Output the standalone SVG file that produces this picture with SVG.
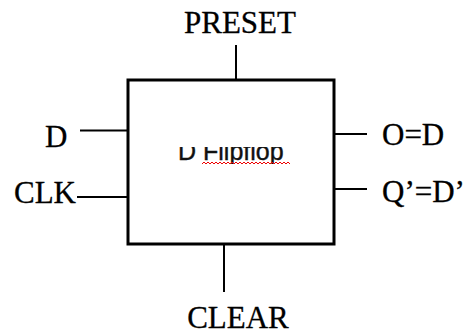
<svg xmlns="http://www.w3.org/2000/svg" width="464" height="335" viewBox="0 0 464 335">
<defs>
<style>
.lbl{font-family:"Liberation Serif","Times New Roman",serif;font-size:31px;fill:#000;stroke:#000;stroke-width:0.3}
.wire{stroke:#000;stroke-width:2;fill:none}
.box{stroke:#000;stroke-width:3;fill:#fff}
.inner{font-family:"Liberation Sans",Arial,sans-serif;font-size:25px;fill:#111;stroke:#111;stroke-width:0.4}
</style>
<clipPath id="cut"><rect x="170" y="147" width="130" height="17"/></clipPath>
</defs>
<rect width="464" height="335" fill="#fff"/>
<g id="connectors">
<line class="wire" x1="236" y1="45" x2="236" y2="80"/>
<line class="wire" x1="224" y1="244" x2="224" y2="292"/>
<line class="wire" x1="80" y1="130.5" x2="128" y2="130.5"/>
<line class="wire" x1="77" y1="197" x2="128" y2="197"/>
<line class="wire" x1="335" y1="134" x2="367" y2="134" stroke="#555"/>
<line class="wire" x1="335" y1="189" x2="367" y2="189"/>
</g>
<g id="flipflop">
<rect class="box" x="128" y="80" width="206" height="164"/>
<text class="inner" x="178" y="160" clip-path="url(#cut)">D Flipflop</text>
<path d="M202,164 l2,-2 l2,2 l2,-2 l2,2 l2,-2 l2,2 l2,-2 l2,2 l2,-2 l2,2 l2,-2 l2,2 l2,-2 l2,2 l2,-2 l2,2 l2,-2 l2,2 l2,-2 l2,2 l2,-2 l2,2 l2,-2 l2,2 l2,-2 l2,2 l2,-2 l2,2 l2,-2 l2,2 l2,-2 l2,2 l2,-2 l2,2 l2,-2 l2,2 l2,-2 l2,2 l2,-2 l2,2 l2,-2 l2,2 l2,-2 l2,2" stroke="#e00" stroke-width="1" fill="none"/>
</g>
<g id="preset"><text class="lbl" x="240" y="33" text-anchor="middle">PRESET</text></g>
<g id="clear"><text class="lbl" x="238" y="328" text-anchor="middle">CLEAR</text></g>
<g id="d"><text class="lbl" x="45" y="147">D</text></g>
<g id="clk"><text class="lbl" x="14" y="203">CLK</text></g>
<g id="q"><text class="lbl" x="382" y="145">O=D</text></g>
<g id="qbar"><text class="lbl" x="382" y="202">Q’=D’</text></g>
</svg>
